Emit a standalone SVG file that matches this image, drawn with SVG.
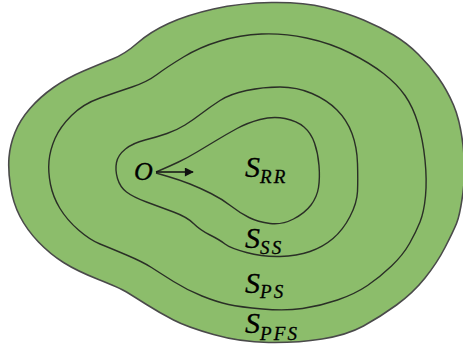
<svg xmlns="http://www.w3.org/2000/svg" width="463" height="352" viewBox="0 0 463 352">
<defs>
<style>
.bg{fill:#ffffff}
.outer{fill:#8cbd6b;stroke:#4a4a4a;stroke-width:1.6}
.ring{fill:none;stroke:#2a2f26;stroke-width:1.4}
.lbl{font-family:"Liberation Serif",serif;font-style:italic;fill:#000;stroke:#000;stroke-width:0.3}
.big{font-size:30px}
.sub{font-size:19px;letter-spacing:2.2px}
.conn{stroke:#111;stroke-width:1.3;fill:none}
</style>
<marker id="ah" viewBox="0 0 10 10" refX="9" refY="5" markerWidth="10" markerHeight="9" markerUnits="userSpaceOnUse" orient="auto">
<path d="M0,0 L10,5 L0,10 Z" fill="#111"/>
</marker>
</defs>
<rect class="bg" x="0" y="0" width="463" height="352"/>
<g id="region-pfs">
<path class="outer" d="M10.5,186.5 Q8,170 9,157.5 Q10,145 15,132.5 Q20,120 30,108.5 Q40,97 53.5,87.5 Q67,78 83.5,71 Q100,64 112.5,59 Q125,54 137.5,43 Q150,32 168.5,23.5 Q187,15 213.5,9 Q240,3 271.5,2.5 Q303,2 325,7.5 Q347,13 363.5,20 Q380,27 393.5,35 Q407,43 418.5,54.5 Q430,66 438.5,78 Q447,90 453.5,105 Q460,120 463,145 Q466,170 463,192.5 Q460,215 456.5,223.5 Q453,232 445,247.5 Q437,263 425,278 Q413,293 396.5,305 Q380,317 363.5,326 Q347,335 322,339 Q297,343 268.5,342.5 Q240,342 213.5,334.5 Q187,327 173.5,320 Q160,313 146.5,304.5 Q133,296 126.5,292 Q120,288 98.5,279.5 Q77,271 63.5,262.5 Q50,254 38.5,242 Q27,230 20,216.5 Q13,203 10.5,186.5 Z"/>
</g>
<g id="region-ps">
<path class="ring" d="M50.5,184.5 Q48,172 49,161 Q50,150 55,138.5 Q60,127 71.5,115.5 Q83,104 100,98 Q117,92 132,87 Q147,82 157,74.5 Q167,67 183.5,57 Q200,47 220,41 Q240,35 261.5,34 Q283,33 306.5,38 Q330,43 350,53 Q370,63 383.5,73.5 Q397,84 405,95.5 Q413,107 418,123.5 Q423,140 425,160 Q427,180 425.5,196 Q424,212 420,222 Q416,232 409.5,243.5 Q403,255 391.5,266 Q380,277 367.5,285.5 Q355,294 337.5,300 Q320,306 302.5,308.5 Q285,311 262.5,309 Q240,307 228.5,304.5 Q217,302 202,296 Q187,290 173.5,281.5 Q160,273 151.5,267.5 Q143,262 126.5,255 Q110,248 100,244 Q90,240 78.5,230 Q67,220 60,208.5 Q53,197 50.5,184.5 Z"/>
</g>
<g id="region-ss">
<path class="ring" d="M117.5,178.5 Q115,170 116.5,162.5 Q118,155 125.5,149 Q133,143 145,140 Q157,137 167,133.5 Q177,130 185,125 Q193,120 201.5,113.5 Q210,107 220,100.5 Q230,94 246.5,90.5 Q263,87 280,87 Q297,87 312,93.5 Q327,100 337,110 Q347,120 352,133.5 Q357,147 357.5,163.5 Q358,180 357.5,191.5 Q357,203 350,216.5 Q343,230 333,238.5 Q323,247 310,251.5 Q297,256 280,256.5 Q263,257 246.5,252.5 Q230,248 225,244 Q220,240 210,235 Q200,230 193.5,223.5 Q187,217 173.5,212 Q160,207 146.5,202 Q133,197 126.5,192 Q120,187 117.5,178.5 Z"/>
</g>
<g id="region-rr">
<path class="ring" d="M156,172 L163,169 Q170,166 178.5,162 Q187,158 197,152 Q207,146 217,140 Q227,134 237,128.5 Q247,123 260,119.5 Q273,116 285,118.5 Q297,121 304,127 Q311,133 314.5,143 Q318,153 319,165.5 Q320,178 318.5,187.5 Q317,197 311,205 Q305,213 293.5,219 Q282,225 270,223.5 Q258,222 249,217.5 Q240,213 231,206 Q222,199 211,193.5 Q200,188 190,184 Q180,180 168,176.5 L156,173"/>
</g>
<g id="connectors">
<line class="conn" x1="156" y1="172" x2="193" y2="172" marker-end="url(#ah)"/>
</g>
<g id="node-O">
<text class="lbl" x="134" y="180" font-size="26">O</text>
</g>
<g id="label-rr"><text class="lbl big" x="245" y="177">S<tspan class="sub" dy="6">RR</tspan></text></g>
<g id="label-ss"><text class="lbl big" x="245" y="248">S<tspan class="sub" dy="6">SS</tspan></text></g>
<g id="label-ps"><text class="lbl big" x="245" y="293">S<tspan class="sub" dy="5">PS</tspan></text></g>
<g id="label-pfs"><text class="lbl big" x="245" y="333">S<tspan class="sub" dy="7">PFS</tspan></text></g>
</svg>
